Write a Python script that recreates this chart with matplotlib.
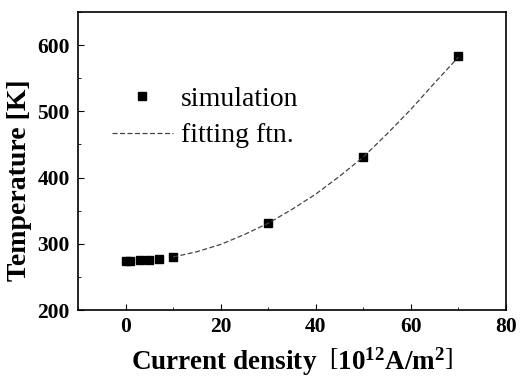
import matplotlib.pyplot as plt
from matplotlib.ticker import MultipleLocator

# simulation points
current = [0, 1, 3, 5, 7, 10, 30, 50, 70]
temperature = [274, 274, 275, 276, 277, 280, 332, 431, 584]

# fitting function
fit_current = [10, 15, 20, 25, 30, 35, 40, 45, 50, 55, 60, 65, 70]
fit_temperature = [280, 288, 299, 314, 331, 352, 375, 402, 431, 466, 503, 543, 582]

plt.rcParams['font.family'] = ['Liberation Serif', 'DejaVu Serif']
plt.rcParams['mathtext.fontset'] = 'custom'
plt.rcParams['mathtext.rm'] = 'Liberation Serif'
plt.rcParams['mathtext.bf'] = 'Liberation Serif:bold'

fig = plt.figure(figsize=(5.23, 3.83), dpi=100)
ax = fig.add_axes([78 / 523, 1 - 310 / 383, 428 / 523, 298 / 383])

ax.plot(current, temperature, 's', color='black', markersize=5.5, label='simulation')
ax.plot(fit_current, fit_temperature, color='#444444', lw=0.9,
        linestyle=(0, (4, 2)), label='fitting ftn.')

ax.set_xlim(-10, 80)
ax.set_ylim(200, 650)
ax.xaxis.set_major_locator(MultipleLocator(20))
ax.xaxis.set_minor_locator(MultipleLocator(10))
ax.yaxis.set_major_locator(MultipleLocator(100))
ax.yaxis.set_minor_locator(MultipleLocator(50))
ax.tick_params(which='both', direction='in', top=False, right=False)
ax.tick_params(which='major', length=4, labelsize=15.5)
ax.tick_params(axis='x', which='major', pad=5)
ax.tick_params(axis='y', which='major', pad=6)
ax.tick_params(which='minor', length=2)
for lab in ax.get_xticklabels() + ax.get_yticklabels():
    lab.set_fontweight('bold')
for s in ax.spines.values():
    s.set_linewidth(1.2)

ax.set_xlabel(r'Current density  $\left[\mathbf{10^{12}A/m^2}\right]$', fontsize=19.5,
              fontweight='bold', labelpad=6)
ax.set_ylabel('Temperature [K]', fontsize=20, fontweight='bold')
ax.yaxis.set_label_coords(-0.107, 0.436)

ax.legend(loc='upper left', bbox_to_anchor=(0.079, 0.75), frameon=False,
          fontsize=20, handlelength=2.2, handletextpad=0.3, labelspacing=0.4,
          borderpad=0, borderaxespad=0, markerscale=1.1)

fig.savefig('out.png', dpi=100)
